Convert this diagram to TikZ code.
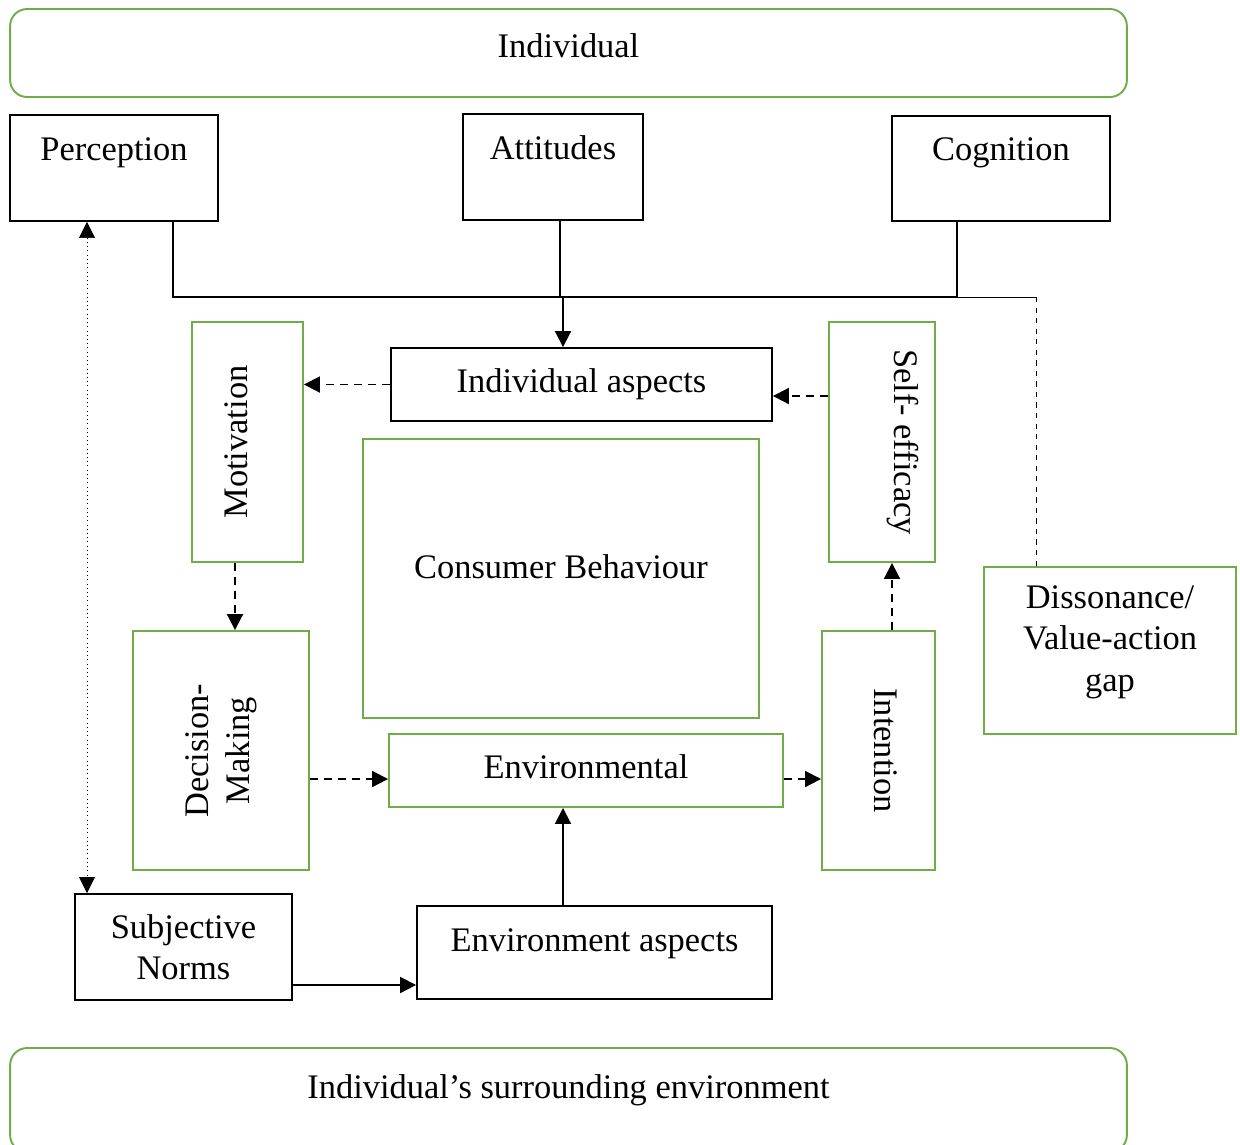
\documentclass[tikz,border=0pt]{standalone}
\usepackage{fontspec}
\setmainfont{Liberation Serif}
\usetikzlibrary{arrows.meta}
\definecolor{boxgreen}{RGB}{112,173,71}
\tikzset{
    box/.style = {draw, line width = 1.1pt, inner sep = 2pt},
    greenbox/.style = {box, draw = boxgreen},
    roundbox/.style = {greenbox, rounded corners = 0.34cm},
    textup/.style = {text height = 0.6cm, text depth = #1},
    line/.style = {line width = 1.1pt},
    arr/.style = {line, -{Triangle[length = 0.32cm, width = 0.32cm]}},
    dasharr/.style = {arr, dash pattern = on 0.16cm off 0.12cm}
}
\begin{document}
\begin{tikzpicture}[x = 0.02cm, y = -0.02cm, font = \fontsize{19.6}{23.5}\selectfont]
        \useasboundingbox (0, 0) rectangle (1240, 1144);
        \node [roundbox, minimum width = 22.34cm, minimum height = 1.76cm, textup = 0.44cm] (indiv) at (568.5, 53) {Individual};
        \node [roundbox, minimum width = 22.34cm, minimum height = 2.08cm, textup = 0.68cm] (surr) at (568.5, 1100) {Individual’s surrounding environment};
        \node [box, minimum width = 4.16cm, minimum height = 2.12cm, textup = 0.92cm] (perc) at (114, 168) {Perception};
        \node [box, minimum width = 3.6cm, minimum height = 2.12cm, textup = 0.92cm] (att) at (553, 167) {Attitudes};
        \node [box, minimum width = 4.36cm, minimum height = 2.1cm, textup = 0.92cm] (cogn) at (1001, 168.5) {Cognition};
        \node [box, minimum width = 7.62cm, minimum height = 1.46cm] (indasp) at (581.5, 384.5) {Individual aspects};
        \node [greenbox, rotate = 90, minimum width = 4.8cm, minimum height = 2.22cm, textup = 0.6cm] (mot) at (247.5, 442) {Motivation};
        \node [greenbox, rotate = -90, minimum width = 4.8cm, minimum height = 2.12cm, textup = 1.08cm] (self) at (882, 442) {Self- efficacy};
        \node [greenbox, minimum width = 7.92cm, minimum height = 5.58cm, textup = 0.6cm] (cons) at (561, 578.5) {Consumer Behaviour};
        \node [greenbox, align = center, minimum width = 5.04cm, minimum height = 3.34cm, text height = 2cm, text depth = 0.38cm] (diss) at (1110, 650.5) {Dissonance/\\Value-action\\gap};
        \node [greenbox, rotate = 90, align = center, minimum width = 4.78cm, minimum height = 3.52cm] (dec) at (221, 750.5) {Decision-\\Making};
        \node [greenbox, minimum width = 7.88cm, minimum height = 1.46cm, textup = 0.3cm] (env) at (586, 770.5) {Environmental};
        \node [greenbox, rotate = -90, minimum width = 4.78cm, minimum height = 2.26cm, textup = 0.42cm] (int) at (878.5, 750.5) {Intention};
        \node [box, align = center, minimum width = 4.34cm, minimum height = 2.12cm] (subj) at (183.5, 947) {Subjective\\Norms};
        \node [box, minimum width = 7.1cm, minimum height = 1.86cm, textup = 0.66cm] (envasp) at (594.5, 952.5) {Environment aspects};

        \coordinate (jl) at (173, 297);
        \coordinate (jr) at (957, 297);
        \coordinate (jd) at (1036, 297);
        \draw [line] (perc.south -| jl) -- (jl) -- (jr) -- (cogn.south -| jr);
        \draw [line] (att.south -| 560, 0) -- (560, 297);
        \draw [arr] (563, 297) -- (indasp.north -| 563, 0);
        \draw [thin] (jr) -- (jd);
        \draw [thin, dashed] (jd) -- (diss.north -| jd);
        \draw [thin, dotted, {Triangle[length = 0.32cm, width = 0.32cm]}-{Triangle[length = 0.32cm, width = 0.32cm]}] (perc.south -| 87, 0) -- (subj.north -| 87, 0);
        \draw [dasharr] (indasp.west) -- (mot.south |- indasp.west);
        \draw [dasharr] (self.south |- 0, 396) -- (indasp.east |- 0, 396);
        \draw [dasharr] (mot.west -| 235, 0) -- (dec.east -| 235, 0);
        \draw [dasharr] (dec.south |- 0, 779) -- (env.west |- 0, 779);
        \draw [dasharr] (env.east |- 0, 779) -- (int.south |- 0, 779);
        \draw [dasharr] (int.west -| 892, 0) -- (self.east -| 892, 0);
        \draw [arr] (envasp.north -| 563, 0) -- (env.south -| 563, 0);
        \draw [arr] (subj.east |- 0, 985) -- (envasp.west |- 0, 985);
    \end{tikzpicture}
\end{document}
